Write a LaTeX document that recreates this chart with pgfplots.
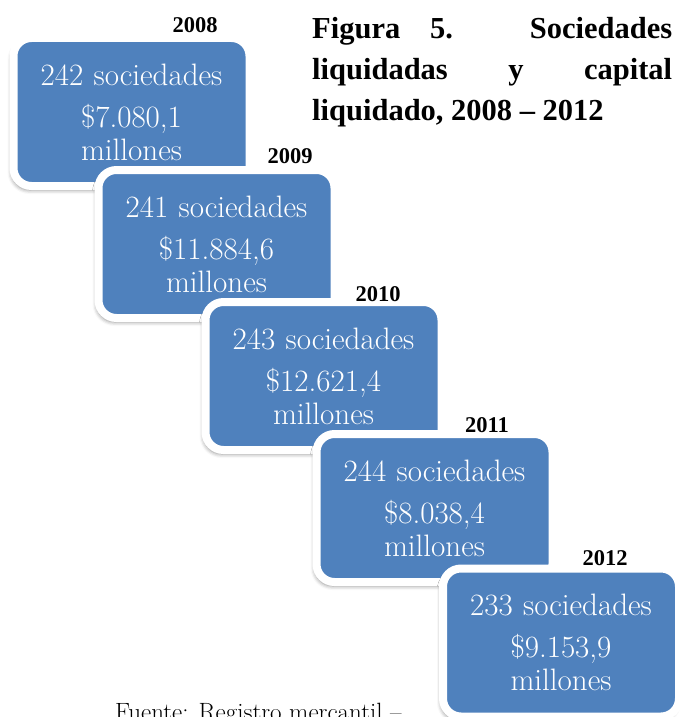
\documentclass[border=0pt]{standalone}
\usepackage{fontspec}
\usepackage{pgfplots}
\pgfplotsset{compat=1.18}
\usepackage{pgfplotstable}
\usetikzlibrary{shadows.blur}
\newfontfamily\tfont{Liberation Serif}
\definecolor{boxblue}{HTML}{4F81BD}

\pgfplotstableread{
year count capital bx by yx yy
2008 242 7080.1 131.5 112 195 33
2009 241 11884.6 216.5 244 290 163
2010 243 12621.4 323.5 376 378 301
2011 244 8038.4 434.5 508 487 432
2012 233 9153.9 561 642.5 605 565
}\datatab

\begin{document}
\begin{tikzpicture}
\begin{axis}[width=688pt,height=717pt,scale only axis,
  xmin=0,xmax=688,ymin=0,ymax=717,y dir=reverse,
  hide axis,clip=false]
\coordinate (BL) at (axis cs:0,717);
\coordinate (TR) at (axis cs:688,0);
% boxes
\addplot[draw=none, mark=none, point meta=explicit,
  visualization depends on={\thisrow{count}\as\nsoc},
  nodes near coords={\pgfmathprintnumber[fixed,precision=0,assume math mode=true]{\nsoc}\ sociedades\\[9pt]\$\pgfmathprintnumber[fixed,fixed zerofill,precision=1,use comma,1000 sep={.},assume math mode=true]{\pgfplotspointmeta}\\millones},
  every node near coord/.append style={anchor=center, fill=boxblue, draw=white,
    line width=8pt, rounded corners=18pt, minimum width=236pt, minimum height=148pt,
    text width=228pt, align=center, text=white, inner sep=0pt,
    font=\fontsize{31}{33}\selectfont,
    blur shadow={shadow xshift=-2pt, shadow yshift=-4pt, shadow blur radius=4pt, shadow opacity=45}}
] table[x=bx,y=by,meta=capital]{\datatab};
% year labels
\addplot[draw=none, mark=none, point meta=explicit symbolic,
  nodes near coords={\pgfplotspointmeta},
  every node near coord/.append style={anchor=base, inner sep=0pt, text=black,
    font=\tfont\bfseries\fontsize{22.5}{27}\selectfont}
] table[x=yx,y=yy,meta=year]{\datatab};
% title
\node[anchor=base west, inner sep=0pt, text width=360pt, align=justify,
  font=\tfont\bfseries\fontsize{30.5}{40.5}\selectfont]
  at (axis cs:312,39) {Figura 5. Sociedades\linebreak liquidadas y capital\linebreak liquidado, 2008 – 2012};
% source
\node[anchor=base west, inner sep=0pt, font=\fontsize{25}{28}\selectfont]
  at (axis cs:115,720) {Fuente: Registro mercantil –};
\end{axis}
\pgfresetboundingbox
\path (BL) rectangle (TR);
\end{tikzpicture}
\end{document}
